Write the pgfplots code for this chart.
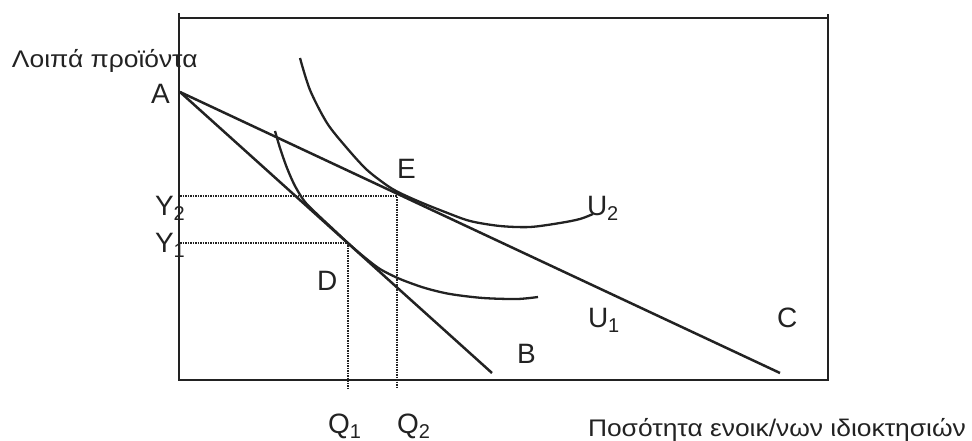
\documentclass[border=0pt]{standalone}
\usepackage{fontspec}
\setmainfont{Liberation Sans}
\newfontfamily\titlefont{Liberation Sans}[FakeStretch=1.1]
\usepackage{pgfplots}
\pgfplotsset{compat=1.18}
\definecolor{ink}{HTML}{222222}
\newcommand{\sub}[1]{\raisebox{-5pt}{\fontsize{20}{20}\selectfont #1}}
\tikzset{lbl/.style={inner sep=0pt,outer sep=0pt,anchor=base west,text=ink}}
\begin{document}
\begin{tikzpicture}
\begin{axis}[width=972pt,height=440pt,scale only axis,
  xmin=0,xmax=972,ymin=0,ymax=440,y dir=reverse,
  hide axis,clip=false]
\addplot[draw=none,forget plot] coordinates {(0,0)(972,440)};
% frame
\addplot[ink,line width=2pt] coordinates {(179,13)(179,380)(828,380)(828,14)};
\addplot[ink,line width=2pt] coordinates {(179,18)(828,18)};
% budget lines
\addplot[ink,line width=2.5pt] coordinates {(180,92)(492,373)};
\addplot[ink,line width=2.5pt] coordinates {(180,92)(780,373)};
% dotted guides
\addplot[ink,line width=1.5pt,densely dotted] coordinates {(180,196)(397,196)(397,388)};
\addplot[ink,line width=1.5pt,densely dotted] coordinates {(180,243)(348,243)(348,388)};
% U2
\addplot[ink,line width=2.3pt,smooth] coordinates {
 (300,58)(310,90)(327,123)(346,147)(366,169)(385,184)(398,192)(420,202)
 (445,212)(470,221)(500,226)(530,227)(560,223)(580,219)(593,214)};
% U1
\addplot[ink,line width=2.3pt,smooth] coordinates {
 (275,131)(280,148)(287,168)(295,186)(305,202)(318,215)(333,229)(348,243)
 (363,256)(380,269)(400,279)(425,288)(450,294)(483,298)(517,299)(538,297)};
% labels
\node[lbl] at (axis cs:12,68) {\titlefont\fontsize{24}{28}\selectfont Λοιπά προϊόντα};
\node[lbl] at (axis cs:588,436) {\titlefont\fontsize{24}{28}\selectfont Ποσότητα ενοικ/νων ιδιοκτησιών};
\node[lbl] at (axis cs:151,103) {\fontsize{28}{30}\selectfont A};
\node[lbl] at (axis cs:397,178) {\fontsize{28}{30}\selectfont E};
\node[lbl] at (axis cs:317,290) {\fontsize{28}{30}\selectfont D};
\node[lbl] at (axis cs:517,363) {\fontsize{28}{30}\selectfont B};
\node[lbl] at (axis cs:777,327) {\fontsize{28}{30}\selectfont C};
\node[lbl] at (axis cs:588,327) {\fontsize{28}{30}\selectfont U\sub{1}};
\node[lbl] at (axis cs:587,215) {\fontsize{28}{30}\selectfont U\sub{2}};
\node[lbl] at (axis cs:155,215) {\fontsize{28}{30}\selectfont Y\sub{2}};
\node[lbl] at (axis cs:155,252) {\fontsize{28}{30}\selectfont Y\sub{1}};
\node[lbl,overlay] at (axis cs:328,433) {\fontsize{28}{30}\selectfont Q\sub{1}};
\node[lbl,overlay] at (axis cs:397,433) {\fontsize{28}{30}\selectfont Q\sub{2}};
\end{axis}
\end{tikzpicture}
\end{document}
